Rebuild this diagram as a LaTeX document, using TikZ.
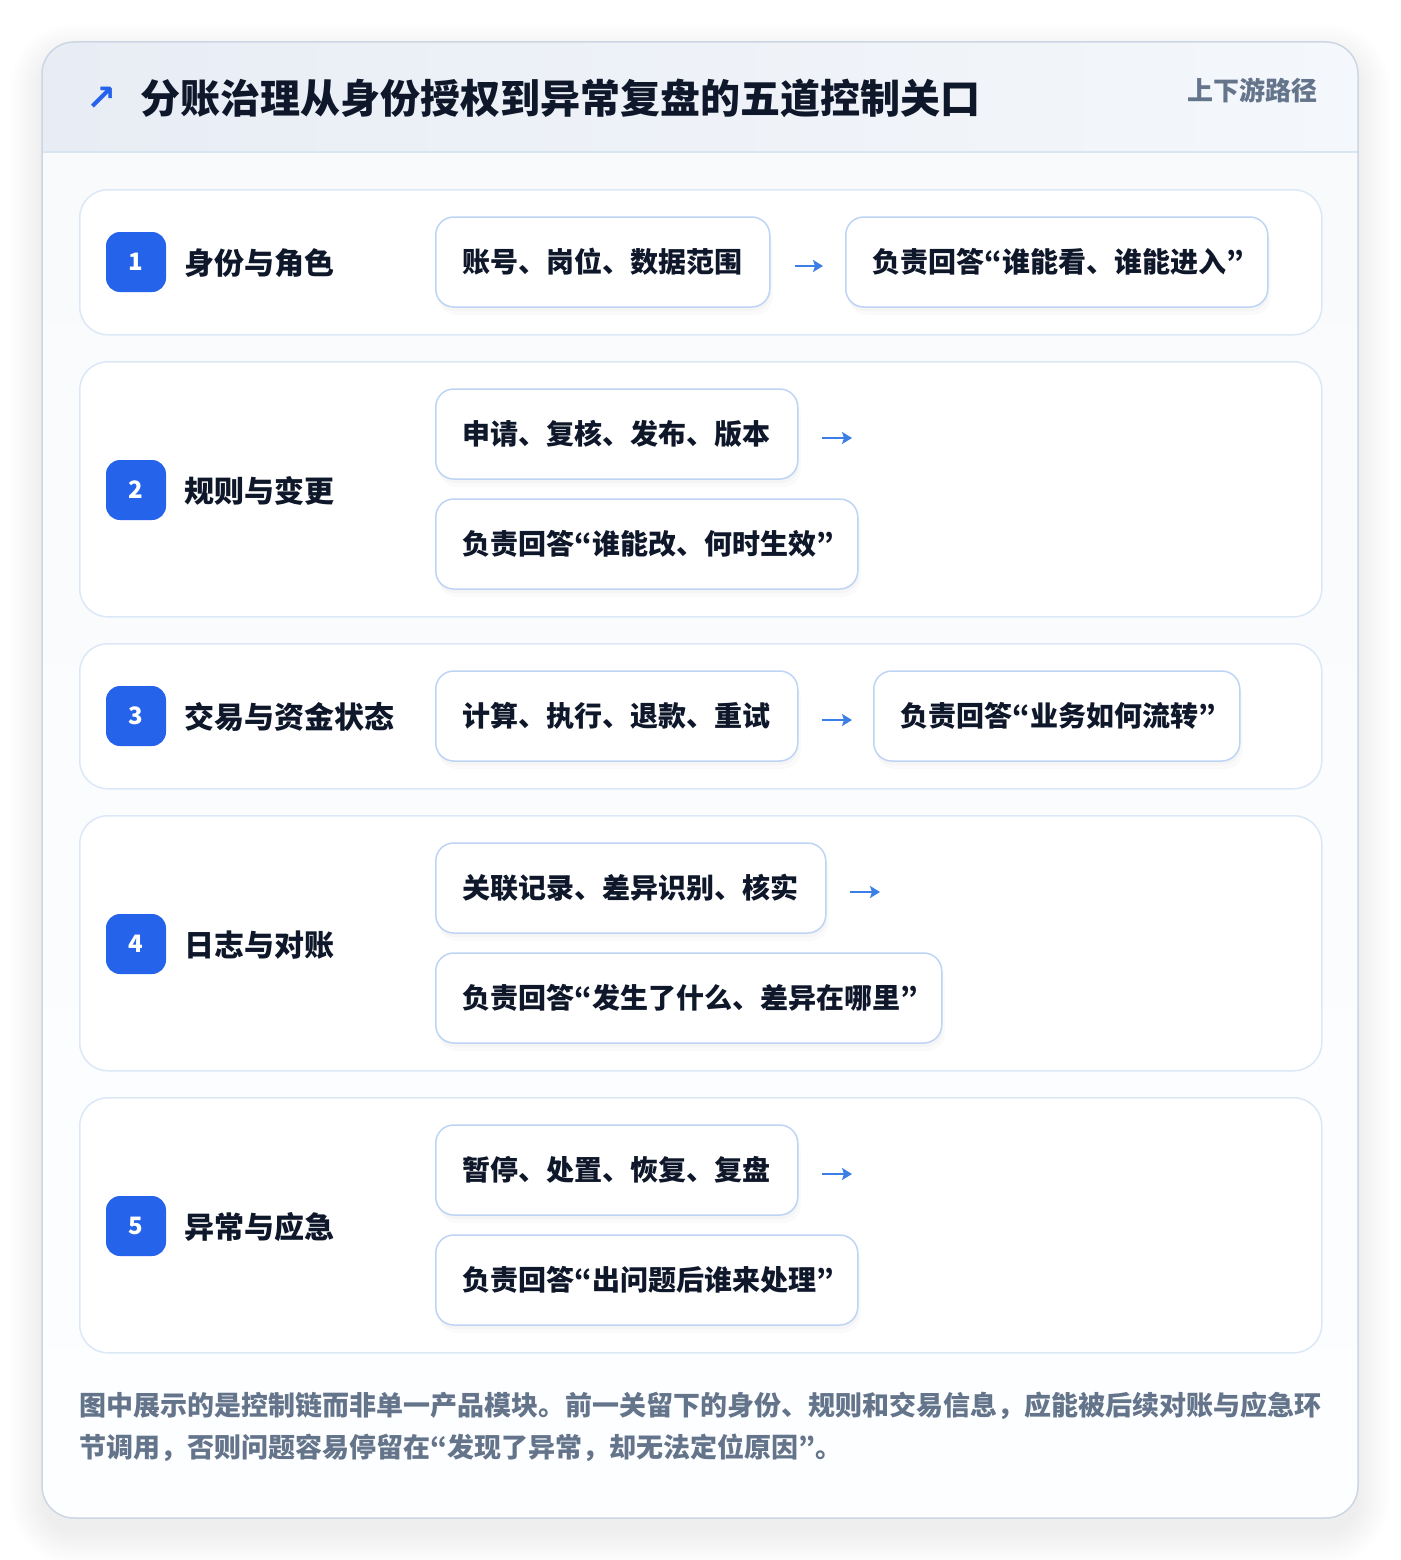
\documentclass[tikz,border=0pt]{standalone}
\usepackage{fontspec}
\setmainfont{Noto Sans CJK SC}
\newfontfamily\symfont{DejaVu Sans}
\newfontfamily\qfont{Noto Sans CJK JP}
\newcommand{\oq}{{\qfont “}}
\newcommand{\cq}{{\qfont ”}}
\usetikzlibrary{arrows.meta}
\definecolor{cardborder}{HTML}{CDD6E3}
\definecolor{bodytop}{HTML}{F8FAFC}
\definecolor{bodybot}{HTML}{FDFEFF}
\definecolor{hdrL}{HTML}{E8EDF5}
\definecolor{hdrR}{HTML}{F4F7FB}
\definecolor{hdrline}{HTML}{DAE5F3}
\definecolor{panelborder}{HTML}{DCE8F7}
\definecolor{itemborder}{HTML}{BDD4F4}
\definecolor{badgeblue}{HTML}{2563EB}
\definecolor{arrowblue}{HTML}{3B7FE6}
\definecolor{titletext}{HTML}{0F172A}
\definecolor{graytext}{HTML}{64748B}
\tikzset{
  panel/.style={draw=panelborder, line width=1.5pt, fill=white, rounded corners=28pt,
    anchor=north west, minimum width=1242pt, inner sep=0pt},
  badge/.style={fill=badgeblue, rounded corners=14pt, minimum size=60pt, inner sep=0pt,
    text=white, font=\bfseries\fontsize{24pt}{24pt}\selectfont},
  rowlabel/.style={anchor=west, inner sep=0pt, text=titletext,
    font=\bfseries\fontsize{30pt}{30pt}\selectfont},
  itembox/.style={draw=itemborder, line width=1.5pt, fill=white, rounded corners=18pt,
    anchor=west, inner xsep=27pt, inner ysep=0pt, minimum height=90pt, align=left,
    text=titletext, font=\bfseries\fontsize{28pt}{28pt}\selectfont,
    preaction={draw=none, fill=black, opacity=0.018, transform canvas={xshift=3pt,yshift=-8pt}},
    preaction={draw=none, fill=black, opacity=0.018, transform canvas={xshift=1pt,yshift=-4pt}}},
  flowarrow/.style={draw=arrowblue, line width=2.6pt,
    -{Stealth[length=10pt,width=12pt,inset=2pt]}},
  footline/.style={anchor=base west, inner sep=0pt, text=graytext,
    font=\bfseries\fontsize{27pt}{27pt}\selectfont},
}
\begin{document}
\begin{tikzpicture}[x=1pt,y=-1pt]
\useasboundingbox (0,0) rectangle (1400,1560);
\fill[white] (0,0) rectangle (1400,1560);
% soft shadow of the card
\foreach \i in {0,2,...,32}{
  \fill[black,opacity=0.0045,rounded corners={32+\i}] ({42-\i},{42-\i+14}) rectangle ({1358+\i},{1518+\i+14});
}
% card
\begin{scope}
  \clip[rounded corners=32pt] (42,42) rectangle (1358,1518);
  \shade[top color=bodytop, bottom color=bodybot] (42,152) rectangle (1358,1518);
  \shade[left color=hdrL, right color=hdrR] (42,42) rectangle (1358,152);
\end{scope}
\draw[hdrline, line width=1.5pt] (42,152) -- (1358,152);
\draw[cardborder, line width=1.5pt, rounded corners=32pt] (42,42) rectangle (1358,1518);

% header
\node[anchor=center, inner sep=0pt, text=badgeblue, font=\symfont\bfseries\fontsize{36pt}{36pt}\selectfont] (ticon) at (102,99) {↗};
\node[anchor=west, inner sep=0pt, text=titletext, font=\bfseries\fontsize{40pt}{40pt}\selectfont] (title) at (140,98) {分账治理从身份授权到异常复盘的五道控制关口};
\node[anchor=east, inner sep=0pt, text=graytext, font=\bfseries\fontsize{26pt}{26pt}\selectfont] (tag) at (1318,90) {上下游路径};

% panels
\node[panel, minimum height=145pt] (p1) at (79,189) {};
\node[panel, minimum height=255pt] (p2) at (79,361) {};
\node[panel, minimum height=145pt] (p3) at (79,643) {};
\node[panel, minimum height=255pt] (p4) at (79,815) {};
\node[panel, minimum height=255pt] (p5) at (79,1097) {};

% badges and labels
\node[badge] (b1) at (136,262) {1};
\node[rowlabel] (l1) at (184,263) {身份与角色};
\node[badge] (b2) at (136,490) {2};
\node[rowlabel] (l2) at (184,491) {规则与变更};
\node[badge] (b3) at (136,716) {3};
\node[rowlabel] (l3) at (184,717) {交易与资金状态};
\node[badge] (b4) at (136,944) {4};
\node[rowlabel] (l4) at (184,945) {日志与对账};
\node[badge] (b5) at (136,1226) {5};
\node[rowlabel] (l5) at (184,1227) {异常与应急};

% row 1
\node[itembox, text width=280pt] (r1a) at (435,262) {账号、岗位、数据范围};
\node[itembox, text width=368pt] (r1b) at (845,262) {负责回答\oq 谁能看、谁能进入\cq};
\draw[flowarrow] ([xshift=24pt,yshift=-4pt]r1a.east) -- ([xshift=-22pt,yshift=-4pt]r1b.west);
% row 2
\node[itembox, text width=308pt] (r2a) at (435,434) {申请、复核、发布、版本};
\node[itembox, text width=368pt] (r2b) at (435,544) {负责回答\oq 谁能改、何时生效\cq};
\coordinate (r2end) at (852,438);
\draw[flowarrow] ([xshift=23pt,yshift=-4pt]r2a.east) -- (r2end);
% row 3
\node[itembox, text width=308pt] (r3a) at (435,716) {计算、执行、退款、重试};
\node[itembox, text width=312pt] (r3b) at (873,716) {负责回答\oq 业务如何流转\cq};
\draw[flowarrow] ([xshift=23pt,yshift=-4pt]r3a.east) -- ([xshift=-21pt,yshift=-4pt]r3b.west);
% row 4
\node[itembox, text width=336pt] (r4a) at (435,888) {关联记录、差异识别、核实};
\node[itembox, text width=452pt] (r4b) at (435,998) {负责回答\oq 发生了什么、差异在哪里\cq};
\coordinate (r4end) at (880,892);
\draw[flowarrow] ([xshift=23pt,yshift=-4pt]r4a.east) -- (r4end);
% row 5
\node[itembox, text width=308pt] (r5a) at (435,1170) {暂停、处置、恢复、复盘};
\node[itembox, text width=368pt] (r5b) at (435,1280) {负责回答\oq 出问题后谁来处理\cq};
\coordinate (r5end) at (852,1174);
\draw[flowarrow] ([xshift=23pt,yshift=-4pt]r5a.east) -- (r5end);

% footer
\node[footline] (f1) at (79,1415) {图中展示的是控制链而非单一产品模块。前一关留下的身份、规则和交易信息，应能被后续对账与应急环};
\node[footline] (f2) at (79,1457) {节调用，否则问题容易停留在\oq 发现了异常，却无法定位原因\cq。};
\end{tikzpicture}
\end{document}
